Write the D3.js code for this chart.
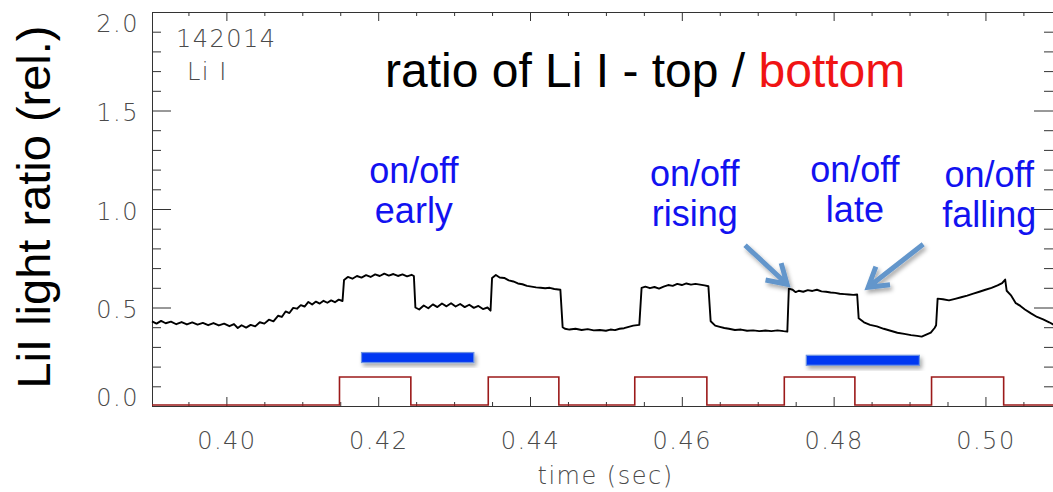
<!DOCTYPE html>
<html lang="en">
<head>
<meta charset="UTF-8">
<title>ratio of Li I</title>
<script src="https://cdn.jsdelivr.net/npm/d3@7"></script>
<style>
    body { margin: 0; background: #fff; }
    .axis path, .axis line { stroke: #333; stroke-width: 1; }
    .thin, .axis text {
        font-family: "DejaVu Sans ExtraLight", "DejaVu Sans", sans-serif;
        font-weight: 200;
        fill: #4a4a4a;
        letter-spacing: 1.5px;
    }
    .big { font-family: "Liberation Sans", Arial, sans-serif; }
</style>
</head>
<body>
<svg width="1053" height="492"></svg>
<script>
    // black trace: ratio top/bottom, [time, value]
    let ratioTrace = [
        [0.3902,0.430],[0.3908,0.418],[0.3914,0.432],[0.3920,0.420],[0.3927,0.428],[0.3934,0.415],
        [0.3941,0.426],[0.3948,0.414],[0.3955,0.424],[0.3962,0.413],[0.3969,0.422],[0.3976,0.410],
        [0.3983,0.421],[0.3990,0.409],[0.3997,0.418],[0.4004,0.405],[0.4010,0.416],[0.4015,0.396],
        [0.4020,0.410],[0.4026,0.398],[0.4032,0.412],[0.4038,0.404],[0.4044,0.425],[0.4050,0.418],
        [0.4056,0.438],[0.4062,0.430],[0.4068,0.458],[0.4073,0.452],[0.4078,0.480],[0.4083,0.472],
        [0.4088,0.498],[0.4093,0.494],[0.4098,0.512],[0.4103,0.505],[0.4108,0.528],[0.4113,0.515],
        [0.4118,0.530],[0.4123,0.520],[0.4128,0.534],[0.4133,0.524],[0.4138,0.536],[0.4143,0.527],
        [0.4148,0.540],[0.4153,0.533],
        [0.4155,0.640],[0.4160,0.655],[0.4166,0.646],[0.4172,0.660],[0.4178,0.652],[0.4184,0.664],
        [0.4190,0.655],[0.4196,0.668],[0.4202,0.660],[0.4208,0.672],[0.4214,0.662],[0.4220,0.670],
        [0.4226,0.660],[0.4232,0.668],[0.4238,0.658],[0.4244,0.666],[0.4247,0.660],
        [0.4249,0.500],[0.4254,0.490],[0.4260,0.510],[0.4266,0.496],[0.4272,0.516],[0.4278,0.502],
        [0.4284,0.520],[0.4290,0.506],[0.4296,0.522],[0.4302,0.505],[0.4308,0.518],[0.4314,0.502],
        [0.4320,0.514],[0.4326,0.498],[0.4332,0.508],[0.4338,0.492],[0.4344,0.500],[0.4348,0.484],
        [0.4350,0.650],[0.4355,0.665],[0.4360,0.652],[0.4366,0.650],[0.4372,0.638],[0.4378,0.632],
        [0.4384,0.622],[0.4390,0.618],[0.4396,0.610],[0.4402,0.606],[0.4408,0.602],[0.4414,0.600],
        [0.4420,0.598],[0.4426,0.600],[0.4432,0.594],[0.4440,0.590],
        [0.4443,0.400],[0.4446,0.392],[0.4452,0.388],[0.4460,0.392],[0.4468,0.386],[0.4476,0.390],
        [0.4484,0.384],[0.4492,0.386],[0.4500,0.382],[0.4506,0.388],[0.4512,0.385],[0.4518,0.392],
        [0.4524,0.395],[0.4530,0.402],[0.4536,0.408],[0.4544,0.412],
        [0.4547,0.600],[0.4552,0.606],[0.4558,0.598],[0.4564,0.604],[0.4570,0.596],[0.4576,0.606],
        [0.4582,0.614],[0.4588,0.610],[0.4594,0.620],[0.4600,0.614],[0.4606,0.622],[0.4612,0.616],
        [0.4618,0.620],[0.4624,0.616],[0.4630,0.612],[0.4635,0.608],
        [0.4638,0.430],[0.4644,0.408],[0.4650,0.402],[0.4656,0.396],[0.4662,0.392],[0.4670,0.386],
        [0.4678,0.388],[0.4686,0.382],[0.4694,0.384],[0.4702,0.380],[0.4710,0.383],[0.4718,0.380],
        [0.4726,0.384],[0.4734,0.380],[0.4739,0.378],
        [0.4741,0.596],[0.4746,0.590],[0.4750,0.578],[0.4754,0.585],[0.4760,0.580],[0.4766,0.588],
        [0.4772,0.584],[0.4778,0.590],[0.4784,0.582],[0.4790,0.580],[0.4796,0.576],[0.4802,0.574],
        [0.4808,0.570],[0.4814,0.568],[0.4820,0.566],[0.4826,0.564],[0.4831,0.566],
        [0.4833,0.445],[0.4840,0.425],[0.4848,0.412],[0.4857,0.404],[0.4866,0.392],[0.4875,0.382],
        [0.4884,0.372],[0.4893,0.366],[0.4902,0.360],[0.4910,0.356],[0.4916,0.352],[0.4922,0.362],
        [0.4928,0.372],[0.4933,0.396],[0.4935,0.410],
        [0.4937,0.545],[0.4944,0.542],[0.4952,0.536],[0.4960,0.544],[0.4968,0.552],[0.4976,0.560],
        [0.4984,0.570],[0.4992,0.580],[0.5000,0.590],[0.5008,0.600],[0.5016,0.612],[0.5022,0.624],
        [0.5026,0.642],
        [0.5028,0.585],[0.5034,0.560],[0.5040,0.522],[0.5046,0.508],[0.5052,0.490],[0.5060,0.470],
        [0.5068,0.452],[0.5076,0.440],[0.5084,0.425],[0.5090,0.412]
    ];

    // red trace: on/off square wave (step after)
    let gateTimes  = [0.3902, 0.4149, 0.4243, 0.4345, 0.4438, 0.4538, 0.4633, 0.4735, 0.4828, 0.4929, 0.5024, 0.5090];
    let gateLevels = [0.005, 0.147, 0.005, 0.147, 0.005, 0.147, 0.005, 0.147, 0.005, 0.147, 0.005, 0.005];

    // blue bars (time windows)
    let barStart = [0.4178, 0.4764];
    let barEnd   = [0.4326, 0.4913];
    let barLevel = [0.246, 0.232];

    // annotations
    let noteLines = [["on/off", "early"], ["on/off", "rising"], ["on/off", "late"], ["on/off", "falling"]];
    let noteT = [0.4247, 0.4617, 0.4828, 0.5005];
    let noteV = [1.132, 1.115, 1.136, 1.112];
    let arrowFrom = [[0.46833, 0.816], [0.49180, 0.821]];
    let arrowTo   = [[0.47387, 0.618], [0.48455, 0.603]];

    // ticks
    let xMajor = [0.40, 0.42, 0.44, 0.46, 0.48, 0.50];
    let xMinor = [0.395, 0.405, 0.41, 0.415, 0.425, 0.43, 0.435, 0.445, 0.45, 0.455,
                  0.465, 0.47, 0.475, 0.485, 0.49, 0.495, 0.505];
    let yMajor = [0.0, 0.5, 1.0, 1.5, 2.0];
    let yMinor = [0.1, 0.2, 0.3, 0.4, 0.6, 0.7, 0.8, 0.9, 1.1, 1.2, 1.3, 1.4, 1.6, 1.7, 1.8, 1.9];

    var svg = d3.select("svg");
    var pLeft = 152, pRight = 1053, pTop = 12, pBottom = 406;

    var x = d3.scaleLinear().domain([0.3902, 0.5089]).range([pLeft, pRight]);
    var y = d3.scaleLinear().domain([0, 2]).range([pBottom, pTop]);

    var defs = svg.append("defs");
    defs.append("filter").attr("id", "shadow")
        .attr("x", "-20%").attr("y", "-50%").attr("width", "140%").attr("height", "200%")
        .append("feDropShadow")
        .attr("dx", 2).attr("dy", 3).attr("stdDeviation", 2)
        .attr("flood-color", "#000").attr("flood-opacity", 0.35);

    // axes, ticks pointing inward
    function addAxis(axis, tx, ty) {
        return svg.append("g").attr("class", "axis")
            .attr("transform", "translate(" + tx + "," + ty + ")")
            .call(axis);
    }

    addAxis(d3.axisBottom(x).tickValues(xMinor).tickSize(-4).tickSizeOuter(0).tickFormat(""), 0, pBottom);
    var xAx = addAxis(d3.axisBottom(x).tickValues(xMajor).tickSize(-9).tickSizeOuter(0)
        .tickPadding(26).tickFormat(d3.format(".2f")), 0, pBottom);
    xAx.selectAll("text").style("font-size", "24px");

    addAxis(d3.axisTop(x).tickValues(xMinor).tickSize(-4).tickSizeOuter(0).tickFormat(""), 0, pTop);
    addAxis(d3.axisTop(x).tickValues(xMajor).tickSize(-9).tickSizeOuter(0).tickFormat(""), 0, pTop);

    addAxis(d3.axisLeft(y).tickValues(yMinor).tickSize(-9).tickSizeOuter(0).tickFormat(""), pLeft, 0);
    var yAx = addAxis(d3.axisLeft(y).tickValues(yMajor).tickSize(-19).tickSizeOuter(0)
        .tickPadding(13).tickFormat(d3.format(".1f")), pLeft, 0);
    yAx.selectAll("text").style("font-size", "24px")
        .attr("y", function (d) { return d === 2 ? 12 : (d === 0 ? -8 : 2.5); });

    addAxis(d3.axisRight(y).tickValues(yMinor).tickSize(-9).tickSizeOuter(0).tickFormat(""), pRight, 0);
    addAxis(d3.axisRight(y).tickValues(yMajor).tickSize(-19).tickSizeOuter(0).tickFormat(""), pRight, 0);

    svg.append("text").attr("class", "thin")
        .attr("x", (pLeft + pRight) / 2 + 3).attr("y", 484)
        .attr("text-anchor", "middle").style("font-size", "24px")
        .text("time (sec)");

    svg.append("text").attr("class", "thin").attr("x", 176).attr("y", 47)
        .style("font-size", "24px").text("142014");
    svg.append("text").attr("class", "thin").attr("x", 187).attr("y", 80)
        .style("font-size", "24px").text("Li I");

    // traces
    var gateLine = d3.line().curve(d3.curveStepAfter)
        .x(function (d, i) { return x(gateTimes[i]); })
        .y(function (d) { return y(d); });
    svg.append("path").datum(gateLevels)
        .attr("d", gateLine)
        .attr("fill", "none").attr("stroke", "#9c1a1a").attr("stroke-width", 1.6);

    var ratioLine = d3.line()
        .x(function (d) { return x(d[0]); })
        .y(function (d) { return y(d[1]); });
    svg.append("path").datum(ratioTrace)
        .attr("d", ratioLine)
        .attr("fill", "none").attr("stroke", "#000").attr("stroke-width", 1.9)
        .attr("stroke-linejoin", "round");

    // blue bars
    svg.selectAll(".bar").data(barStart).enter().append("rect")
        .attr("class", "bar")
        .attr("x", function (d) { return x(d); })
        .attr("width", function (d, i) { return x(barEnd[i]) - x(d); })
        .attr("y", function (d, i) { return y(barLevel[i]) - 5; })
        .attr("height", 10)
        .attr("fill", "#0637f2").attr("stroke", "#6c93e0").attr("stroke-width", 1.2)
        .attr("filter", "url(#shadow)");

    // arrows
    arrowFrom.forEach(function (f, i) {
        var x0 = x(f[0]), y0 = y(f[1]), x1 = x(arrowTo[i][0]), y1 = y(arrowTo[i][1]);
        var a = Math.atan2(y1 - y0, x1 - x0), w = 22, s = 0.55;
        var p = "M" + x0 + "," + y0 + "L" + x1 + "," + y1 +
            "M" + (x1 - w * Math.cos(a - s)) + "," + (y1 - w * Math.sin(a - s)) +
            "L" + x1 + "," + y1 +
            "L" + (x1 - w * Math.cos(a + s)) + "," + (y1 - w * Math.sin(a + s));
        svg.append("path").attr("d", p)
            .attr("fill", "none").attr("stroke", "#6496cb").attr("stroke-width", 5)
            .attr("stroke-linejoin", "miter").attr("stroke-linecap", "butt")
            .attr("filter", "url(#shadow)");
    });

    // annotations
    noteLines.forEach(function (lines, i) {
        var t = svg.append("text").attr("class", "big")
            .attr("x", x(noteT[i])).attr("y", y(noteV[i]))
            .attr("text-anchor", "middle").attr("fill", "#1212f0")
            .style("font-size", "36px");
        lines.forEach(function (l, j) {
            t.append("tspan").attr("x", x(noteT[i])).attr("dy", j === 0 ? 0 : 40).text(l);
        });
    });

    // title
    var title = svg.append("text").attr("class", "big")
        .attr("x", 385).attr("y", 87).style("font-size", "48px").attr("fill", "#000");
    title.append("tspan").text("ratio of Li I - top / ");
    title.append("tspan").attr("fill", "#f01414").text("bottom");

    // y label
    svg.append("text").attr("class", "big")
        .attr("transform", "translate(50,207) rotate(-90)")
        .attr("text-anchor", "middle").style("font-size", "47px").attr("fill", "#000")
        .text("LiI light ratio (rel.)");
</script>
</body>
</html>
